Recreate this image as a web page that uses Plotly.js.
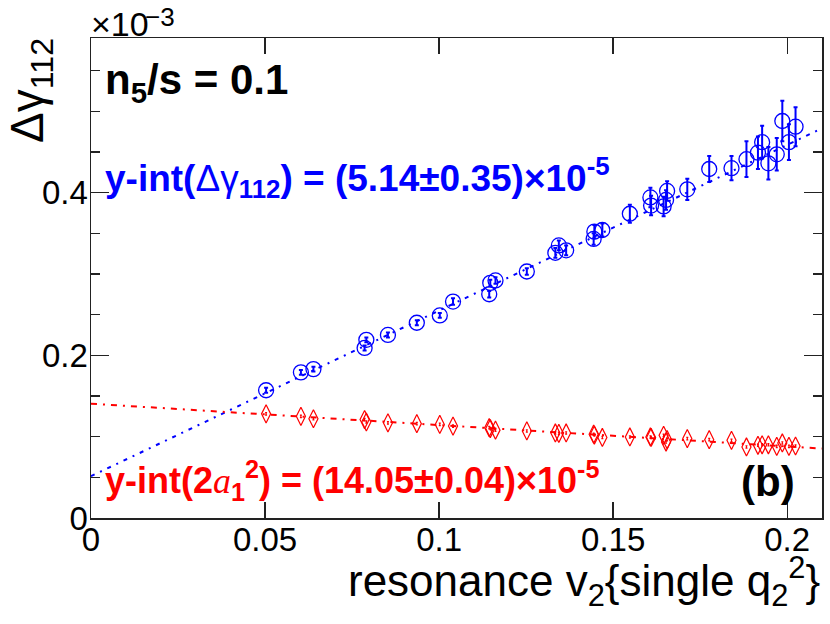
<!DOCTYPE html>
<html>
<head>
<meta charset="utf-8">
<script src="https://cdn.plot.ly/plotly-3.0.1.min.js"></script>
<style>
  html, body { margin: 0; padding: 0; background: #fff; }
  #chart { width: 830px; height: 624px; }
</style>
</head>
<body>
<div id="chart"></div>
<script>
// ---- Datos (eje y en unidades de 1e-3) ----
const v2Vals = [0.0503, 0.0603, 0.0639, 0.0786, 0.0791, 0.0853, 0.0936, 0.1002, 0.1040,
  0.1144, 0.1147, 0.1162, 0.1252, 0.1334, 0.1344, 0.1365, 0.1444, 0.1446, 0.1469,
  0.1548, 0.1607, 0.1609, 0.1645, 0.1652, 0.1655, 0.1713, 0.1776, 0.1840, 0.1883,
  0.1916, 0.1928, 0.1946, 0.1970, 0.1986, 0.2005, 0.2024];

const dGammaVals = [0.157, 0.179, 0.183, 0.209, 0.219, 0.225, 0.240, 0.249, 0.266,
  0.275, 0.289, 0.292, 0.303, 0.326, 0.335, 0.329, 0.343, 0.352, 0.354,
  0.374, 0.394, 0.384, 0.383, 0.391, 0.402, 0.404, 0.429, 0.430, 0.441,
  0.449, 0.462, 0.436, 0.447, 0.488, 0.462, 0.481];

const dGammaErr = [0.003, 0.003, 0.003, 0.003, 0.003, 0.003, 0.003, 0.003, 0.004,
  0.004, 0.004, 0.004, 0.004, 0.006, 0.006, 0.006, 0.007, 0.008, 0.008,
  0.011, 0.012, 0.012, 0.012, 0.012, 0.012, 0.013, 0.016, 0.015, 0.022,
  0.020, 0.020, 0.020, 0.020, 0.025, 0.022, 0.024];

const a1Vals = [0.128, 0.125, 0.122, 0.121, 0.118, 0.117, 0.116, 0.115, 0.113,
  0.111, 0.110, 0.108, 0.107, 0.1045, 0.104, 0.1045, 0.103, 0.102, 0.099,
  0.0996, 0.0996, 0.099, 0.1017, 0.0934, 0.0963, 0.0976, 0.0963, 0.0955, 0.0873,
  0.0894, 0.0900, 0.0900, 0.0881, 0.0922, 0.0881, 0.0885];

const a1Err = [0.0015, 0.0015, 0.0015, 0.0015, 0.0015, 0.0015, 0.0015, 0.0015, 0.0015,
  0.0015, 0.0015, 0.0015, 0.0015, 0.0015, 0.0015, 0.0015, 0.0015, 0.0015, 0.0015,
  0.0015, 0.0015, 0.0015, 0.0015, 0.0015, 0.0015, 0.0015, 0.0015, 0.0015, 0.0015,
  0.0015, 0.0015, 0.0015, 0.0015, 0.0015, 0.0015, 0.0015];

// extremos de las rectas de ajuste
const fitX = [0, 0.21];
const fitBlue = [0.0514, 0.479];
const fitRed = [0.1405, 0.0853];

const FONT = 'Liberation Sans, Arial, Helvetica, sans-serif';
const BLUE = '#0000ff';
const RED = '#ff0000';

const traces = [
  {
    x: fitX, y: fitBlue, type: 'scatter', mode: 'lines',
    line: { color: BLUE, width: 2, dash: '4px,6px,2px,6px' },
    hoverinfo: 'skip'
  },
  {
    x: fitX, y: fitRed, type: 'scatter', mode: 'lines',
    line: { color: RED, width: 2, dash: '6px,6px,2px,6px' },
    hoverinfo: 'skip'
  },
  {
    x: v2Vals, y: dGammaVals, type: 'scatter', mode: 'markers',
    marker: { symbol: 'circle-open', size: 15, color: BLUE, line: { width: 1.3, color: BLUE } },
    error_y: { type: 'data', array: dGammaErr, color: BLUE, thickness: 2, width: 2 }
  },
  {
    x: v2Vals, y: a1Vals, type: 'scatter', mode: 'markers',
    marker: { symbol: 'diamond-tall-open', size: 13, color: RED, line: { width: 1.2, color: RED } },
    error_y: { type: 'data', array: a1Err, color: RED, thickness: 1.2, width: 1 }
  }
];

const px = (p) => (p - 91) / 731;   // píxel x -> paper
const py = (p) => (518 - p) / 480;  // píxel y -> paper

const annotations = [
  {
    text: '×10', xref: 'paper', yref: 'paper',
    x: px(89), y: py(24), xanchor: 'left', yanchor: 'middle', showarrow: false,
    font: { family: FONT, size: 34, color: '#000' }
  },
  {
    text: '−3', xref: 'paper', yref: 'paper',
    x: px(143), y: py(17), xanchor: 'left', yanchor: 'middle', showarrow: false,
    font: { family: FONT, size: 26, color: '#000' }
  },
  {
    text: 'Δγ<sub>112</sub>', xref: 'paper', yref: 'paper', textangle: -90,
    x: px(-1), y: py(36), xanchor: 'left', yanchor: 'top', showarrow: false,
    font: { family: FONT, size: 46, color: '#000' }
  },
  {
    text: 'resonance v<sub>2</sub>{single q<sub>2</sub><sup>2</sup>}', xref: 'paper', yref: 'paper',
    x: 1, y: py(581), xanchor: 'right', yanchor: 'middle', showarrow: false,
    font: { family: FONT, size: 44, color: '#000' }
  },
  {
    text: 'n<sub>5</sub>/s = 0.1', xref: 'paper', yref: 'paper',
    x: px(103), y: py(82), xanchor: 'left', yanchor: 'middle', showarrow: false,
    font: { family: FONT, size: 42, color: '#000', weight: 'bold' }
  },
  {
    text: 'y-int(<span style="font-weight:normal">Δγ</span><sub>112</sub>) = (5.14±0.35)×10<sup>-5</sup>',
    xref: 'paper', yref: 'paper',
    x: px(103), y: py(177), xanchor: 'left', yanchor: 'middle', showarrow: false,
    font: { family: FONT, size: 37, color: BLUE, weight: 'bold' }
  },
  {
    text: 'y-int(2<span style="font-family:Liberation Serif;font-weight:normal;font-style:italic">a</span><sub>1</sub><sup>2</sup>) = (14.05±0.04)×10<sup>-5</sup>',
    xref: 'paper', yref: 'paper',
    x: px(103), y: py(480), xanchor: 'left', yanchor: 'middle', showarrow: false,
    font: { family: FONT, size: 36, color: RED, weight: 'bold' }
  },
  {
    text: '(b)', xref: 'paper', yref: 'paper',
    x: px(797), y: py(481), xanchor: 'right', yanchor: 'middle', showarrow: false,
    font: { family: FONT, size: 42, color: '#000', weight: 'bold' }
  }
];

const layout = {
  width: 830,
  height: 624,
  margin: { l: 91, r: 8, t: 38, b: 106 },
  paper_bgcolor: '#fff',
  plot_bgcolor: '#fff',
  showlegend: false,
  font: { family: FONT, size: 33, color: '#000' },
  xaxis: {
    range: [0, 0.21],
    dtick: 0.05,
    tick0: 0,
    ticks: 'inside',
    ticklen: 16,
    tickwidth: 1.3,
    tickcolor: '#222',
    ticklabelstandoff: -8,
    showline: true,
    linecolor: '#222',
    linewidth: 1.5,
    mirror: 'ticks',
    showgrid: false,
    zeroline: false,
    tickfont: { family: FONT, size: 33, color: '#000' }
  },
  yaxis: {
    range: [0, 0.59],
    dtick: 0.2,
    tick0: 0,
    ticks: 'inside',
    ticklen: 18,
    tickwidth: 1.3,
    tickcolor: '#222',
    ticklabelstandoff: -5,
    minor: { dtick: 0.05, ticks: 'inside', ticklen: 9, tickwidth: 1.3, tickcolor: '#222', showgrid: false },
    showline: true,
    linecolor: '#222',
    linewidth: 1.5,
    mirror: 'ticks',
    showgrid: false,
    zeroline: false,
    tickfont: { family: FONT, size: 33, color: '#000' }
  },
  annotations: annotations
};

Plotly.newPlot('chart', traces, layout, { displayModeBar: false, staticPlot: true });
</script>
</body>
</html>
